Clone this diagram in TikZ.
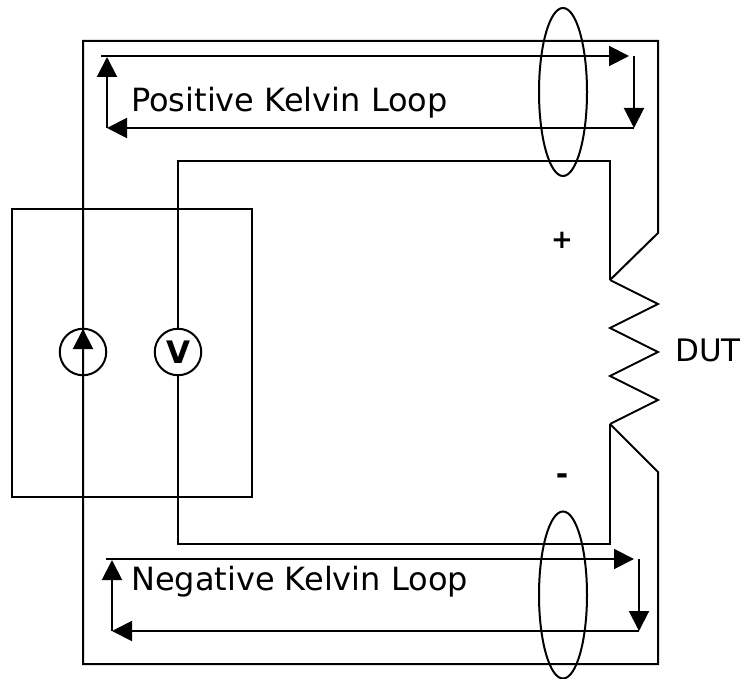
\documentclass[tikz,border=0pt]{standalone}
\usepackage{fontspec}
\setmainfont{DejaVu Sans}
\usetikzlibrary{arrows.meta}
\tikzset{
  wire/.style={draw=black,line width=2pt,line join=miter},
  loopwire/.style={wire,-{Triangle[length=20pt,width=20pt]}},
  meter/.style={circle,draw=black,line width=2pt,minimum size=46.5pt,inner sep=0pt,fill=none},
  lbl/.style={font=\fontsize{32}{36}\selectfont,inner sep=0pt,text=black},
  sign/.style={font=\bfseries\fontsize{26}{30}\selectfont,inner sep=0pt,text=black}
}
\begin{document}
\begin{tikzpicture}[x=1pt,y=-1pt]
\useasboundingbox (0,0) rectangle (744,679);
% coordinates
\coordinate (otl) at (83,41);
\coordinate (otr) at (658,41);
\coordinate (orb) at (658,233);
\coordinate (rt) at (610,280);
\coordinate (z1) at (658,304);
\coordinate (z2) at (610,328);
\coordinate (z3) at (658,352);
\coordinate (z4) at (610,376);
\coordinate (z5) at (658,400);
\coordinate (rb) at (610,424);
\coordinate (obb) at (658,472);
\coordinate (obr) at (658,664);
\coordinate (obl) at (83,664);
\coordinate (itl) at (178,161);
\coordinate (itr) at (610,161);
\coordinate (ibr) at (610,544);
\coordinate (ibl) at (178,544);
% instrument box
\node[draw=black,line width=2pt,minimum width=240pt,minimum height=288pt,inner sep=0pt,anchor=north west] (box) at (11,208) {};
% meters
\node[meter] (src) at (83,352) {};
\node[meter,font=\bfseries\fontsize{31}{34}\selectfont] (vm) at (178,352) {V};
% outer force loop
\draw[wire] (src.center) -- (otl) -- (otr) -- (orb) -- (rt);
\draw[wire] (src.center) -- (obl) -- (obr) -- (obb) -- (rb);
% resistor
\draw[wire] (rt) -- (z1) -- (z2) -- (z3) -- (z4) -- (z5) -- (rb);
% inner sense loop
\draw[wire] (vm.north) -- (itl) -- (itr) -- (rt);
\draw[wire] (vm.south) -- (ibl) -- (ibr) -- (rb);
% source arrow
\coordinate (srcbase) at (83,356);
\coordinate (srctip) at (83,329);
\draw[loopwire] (srcbase) -- (srctip);
% positive loop
\coordinate (pa) at (101,56);
\coordinate (pb) at (629,56);
\coordinate (pc) at (634,56);
\coordinate (pd) at (634,128);
\coordinate (pe) at (107,128);
\coordinate (pf) at (107,57);
\draw[loopwire] (pa) -- (pb);
\draw[loopwire] (pc) -- (pd);
\draw[loopwire] (pd) -- (pe);
\draw[loopwire] (pe) -- (pf);
% negative loop
\coordinate (na) at (106,559);
\coordinate (nb) at (634,559);
\coordinate (nc) at (639,559);
\coordinate (nd) at (639,631);
\coordinate (ne) at (112,631);
\coordinate (nf) at (112,560);
\draw[loopwire] (na) -- (nb);
\draw[loopwire] (nc) -- (nd);
\draw[loopwire] (nd) -- (ne);
\draw[loopwire] (ne) -- (nf);
% rings
\draw[wire] (563,92) ellipse [x radius=24,y radius=84];
\draw[wire] (563,595) ellipse [x radius=24,y radius=83.5];
% labels
\node[lbl,anchor=base west] (pl) at (131,112) {Positive Kelvin Loop};
\node[lbl,anchor=base west] (nl) at (131,590) {Negative Kelvin Loop};
\node[lbl,anchor=base west,font=\fontsize{31}{34}\selectfont] (dut) at (675,361) {DUT};
\node[sign] (plus) at (562,240) {+};
\node[sign,font=\bfseries\fontsize{30}{34}\selectfont] (minus) at (562,479) {-};
\end{tikzpicture}
\end{document}
